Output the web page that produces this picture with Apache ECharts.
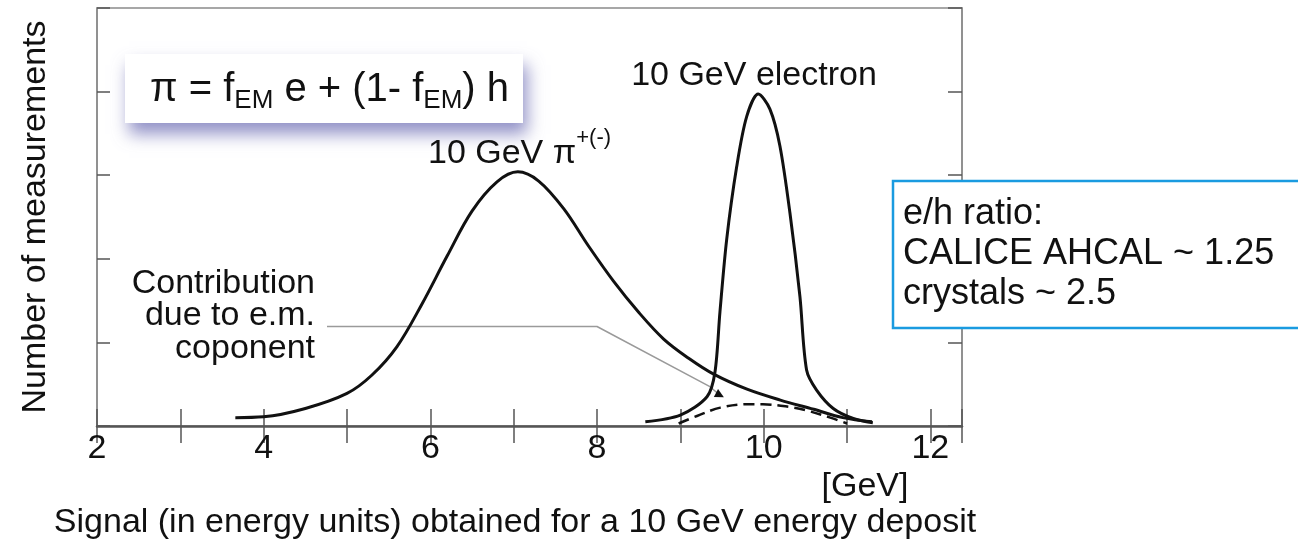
<!DOCTYPE html>
<html>
<head>
<meta charset="utf-8">
<script src="https://cdn.jsdelivr.net/npm/echarts@6/dist/echarts.min.js"></script>
<style>
html, body { margin: 0; padding: 0; background: #fff; }
#chart { width: 1298px; height: 551px; }
</style>
</head>
<body>
<div id="chart"></div>
<script>
// x tick labels (only even values carry a label)
const xTickValues = [2, 4, 6, 8, 10, 12];
const xTickLabels = ['2', '4', '6', '8', '10', '12'];

// 10 GeV pion response
const pionX = [3.66, 4.0, 4.5, 5.0, 5.3, 5.6, 5.9, 6.2, 6.5, 6.8, 7.05, 7.3, 7.6, 7.9, 8.2, 8.5, 8.8, 9.1, 9.4, 9.8, 10.2, 10.6, 10.95, 11.3];
const pionY = [0.1, 0.11, 0.21, 0.39, 0.61, 0.95, 1.46, 2.03, 2.57, 2.92, 3.04, 2.93, 2.6, 2.15, 1.73, 1.36, 1.04, 0.81, 0.62, 0.44, 0.31, 0.2, 0.1, 0.05];

// 10 GeV electron response
const electronX = [8.58, 9.0, 9.32, 9.415, 9.475, 9.556, 9.676, 9.796, 9.935, 10.075, 10.195, 10.315, 10.435, 10.515, 10.635, 10.835, 11.075, 11.31];
const electronY = [0.05, 0.13, 0.35, 0.64, 1.36, 2.23, 3.1, 3.7, 3.97, 3.79, 3.35, 2.55, 1.55, 0.67, 0.43, 0.21, 0.09, 0.04];

// e.m. component of the pion (dashed)
const emX = [8.98, 9.2, 9.48, 9.8, 9.99, 10.3, 10.5, 10.8, 11.0];
const emY = [0.03, 0.12, 0.22, 0.26, 0.26, 0.23, 0.19, 0.1, 0.03];

// pointer from the label to the e.m. component
const pointerX = [4.76, 8.0, 9.355, 9.475];
const pointerY = [1.19, 1.19, 0.47, 0.37];

const emLabelLines = ['Contribution', 'due to e.m.', 'coponent'];
const ratioLines = ['e/h ratio:', 'CALICE AHCAL ~ 1.25', 'crystals ~ 2.5'];

const FONT = '"Liberation Sans", Arial, Helvetica, sans-serif';

function pairs(xs, ys) {
    return xs.map((x, i) => [x, ys[i]]);
}

const pointerData = pairs(pointerX, pointerY).map((p, i, arr) => {
    if (i === arr.length - 1) {
        return { value: p, symbol: 'triangle', symbolSize: 9, symbolRotate: -118 };
    }
    return { value: p, symbol: 'none' };
});

const chart = echarts.init(document.getElementById('chart'));

const option = {
    animation: false,
    backgroundColor: '#fff',
    grid: {
        left: 97,
        right: 336,
        top: 8,
        bottom: 125,
        show: true,
        borderColor: '#8a8a8a',
        borderWidth: 1.5,
    },
    xAxis: [
        {
            type: 'value',
            position: 'bottom',
            min: 2,
            max: 12.38,
            interval: 1,
            axisLine: { lineStyle: { color: '#555', width: 2.5 } },
            axisTick: { inside: true, length: 17, lineStyle: { color: '#555', width: 1.5 } },
            axisLabel: {
                margin: 6,
                color: '#111',
                fontSize: 34,
                fontFamily: FONT,
                formatter: function (v) {
                    const idx = xTickValues.findIndex(t => Math.abs(t - v) < 1e-6);
                    return idx >= 0 ? xTickLabels[idx] : '';
                },
            },
            splitLine: { show: false },
        },
        {
            type: 'value',
            position: 'top',
            min: 2,
            max: 12.38,
            interval: 1,
            axisLine: { show: false },
            axisTick: { inside: true, length: 17, lineStyle: { color: '#555', width: 1.5 } },
            axisLabel: { show: false },
            splitLine: { show: false },
        },
    ],
    yAxis: [
        {
            type: 'value',
            position: 'left',
            min: 0,
            max: 5,
            interval: 1,
            axisLine: { show: true, lineStyle: { color: '#8a8a8a', width: 1.5 } },
            axisTick: { show: true, inside: true, length: 13, lineStyle: { color: '#555', width: 1.5 } },
            axisLabel: { show: false },
            splitLine: { show: false },
        },
        {
            type: 'value',
            position: 'right',
            min: 0,
            max: 5,
            interval: 1,
            axisLine: { show: true, lineStyle: { color: '#8a8a8a', width: 1.5 } },
            axisTick: { show: true, inside: true, length: 14, lineStyle: { color: '#555', width: 1.5 } },
            axisLabel: { show: false },
            splitLine: { show: false },
        },
    ],
    series: [
        {
            name: 'pointer',
            type: 'line',
            data: pointerData,
            showSymbol: true,
            itemStyle: { color: '#111' },
            lineStyle: { color: '#9a9a9a', width: 1.5 },
            z: 2,
        },
        {
            name: 'em',
            type: 'line',
            data: pairs(emX, emY),
            smooth: 0.35,
            showSymbol: false,
            lineStyle: { color: '#111', width: 2.5, type: [11, 6] },
            z: 3,
        },
        {
            name: 'pion',
            type: 'line',
            data: pairs(pionX, pionY),
            smooth: 0.35,
            showSymbol: false,
            lineStyle: { color: '#111', width: 3 },
            z: 4,
        },
        {
            name: 'electron',
            type: 'line',
            data: pairs(electronX, electronY),
            smooth: 0.3,
            showSymbol: false,
            lineStyle: { color: '#111', width: 3 },
            z: 4,
        },
    ],
    graphic: [
        // formula box with soft shadow
        {
            type: 'rect',
            z: 100,
            shape: { x: 125, y: 54, width: 398, height: 69 },
            style: {
                fill: '#fff',
                shadowBlur: 16,
                shadowColor: 'rgba(110,110,180,0.75)',
                shadowOffsetX: 4,
                shadowOffsetY: 11,
            },
        },
        {
            type: 'text',
            z: 101,
            x: 150,
            y: 114,
            style: {
                text: '{n|π = f}{s|EM}{n| e + (1- f}{s|EM}{n|) h}',
                fill: '#111',
                font: '40px ' + FONT,
                textAlign: 'left',
                textVerticalAlign: 'bottom',
                align: 'left',
                verticalAlign: 'bottom',
                rich: {
                    n: { fontSize: 40, lineHeight: 42, fontFamily: FONT, verticalAlign: 'bottom', padding: [0, 0, 4, 0], fill: '#111' },
                    s: { fontSize: 26, lineHeight: 28, fontFamily: FONT, verticalAlign: 'bottom', fill: '#111' },
                },
            },
        },
        // curve labels
        {
            type: 'text',
            z: 101,
            x: 754,
            y: 76,
            style: {
                text: '10 GeV electron',
                fill: '#111',
                font: '34px ' + FONT,
                textAlign: 'center',
                textVerticalAlign: 'middle',
                align: 'center',
                verticalAlign: 'middle',
            },
        },
        {
            type: 'text',
            z: 101,
            x: 428,
            y: 127,
            style: {
                text: '{n|10 GeV π}{sup|+(-)}',
                fill: '#111',
                font: '34px ' + FONT,
                textAlign: 'left',
                textVerticalAlign: 'top',
                align: 'left',
                verticalAlign: 'top',
                rich: {
                    n: { fontSize: 34, lineHeight: 36, fontFamily: FONT, verticalAlign: 'top', padding: [10, 0, 0, 0], fill: '#111' },
                    sup: { fontSize: 22, lineHeight: 24, fontFamily: FONT, verticalAlign: 'top', fill: '#111' },
                },
            },
        },
        {
            type: 'text',
            z: 101,
            x: 315,
            y: 267,
            style: {
                text: emLabelLines.join('\n'),
                fill: '#111',
                font: '34px ' + FONT,
                lineHeight: 32.5,
                textAlign: 'right',
                textVerticalAlign: 'top',
                align: 'right',
                verticalAlign: 'top',
            },
        },
        // e/h ratio box
        {
            type: 'rect',
            z: 100,
            shape: { x: 893, y: 181, width: 420, height: 147 },
            style: { fill: '#fff', stroke: '#1a9be0', lineWidth: 2.5 },
        },
        {
            type: 'text',
            z: 101,
            x: 903,
            y: 194,
            style: {
                text: ratioLines.join('\n'),
                fill: '#111',
                font: '36px ' + FONT,
                lineHeight: 40,
                textAlign: 'left',
                textVerticalAlign: 'top',
                align: 'left',
                verticalAlign: 'top',
            },
        },
        // axis titles
        {
            type: 'text',
            z: 101,
            x: 865,
            y: 487,
            style: {
                text: '[GeV]',
                fill: '#111',
                font: '34px ' + FONT,
                textAlign: 'center',
                textVerticalAlign: 'middle',
                align: 'center',
                verticalAlign: 'middle',
            },
        },
        {
            type: 'text',
            z: 101,
            x: 515,
            y: 523,
            style: {
                text: 'Signal (in energy units) obtained for a 10 GeV energy deposit',
                fill: '#111',
                font: '34px ' + FONT,
                textAlign: 'center',
                textVerticalAlign: 'middle',
                align: 'center',
                verticalAlign: 'middle',
            },
        },
        {
            type: 'text',
            z: 101,
            x: 36,
            y: 217,
            rotation: Math.PI / 2,
            style: {
                text: 'Number of measurements',
                fill: '#111',
                font: '34px ' + FONT,
                textAlign: 'center',
                textVerticalAlign: 'middle',
                align: 'center',
                verticalAlign: 'middle',
            },
        },
    ],
};

chart.setOption(option);
</script>
</body>
</html>
